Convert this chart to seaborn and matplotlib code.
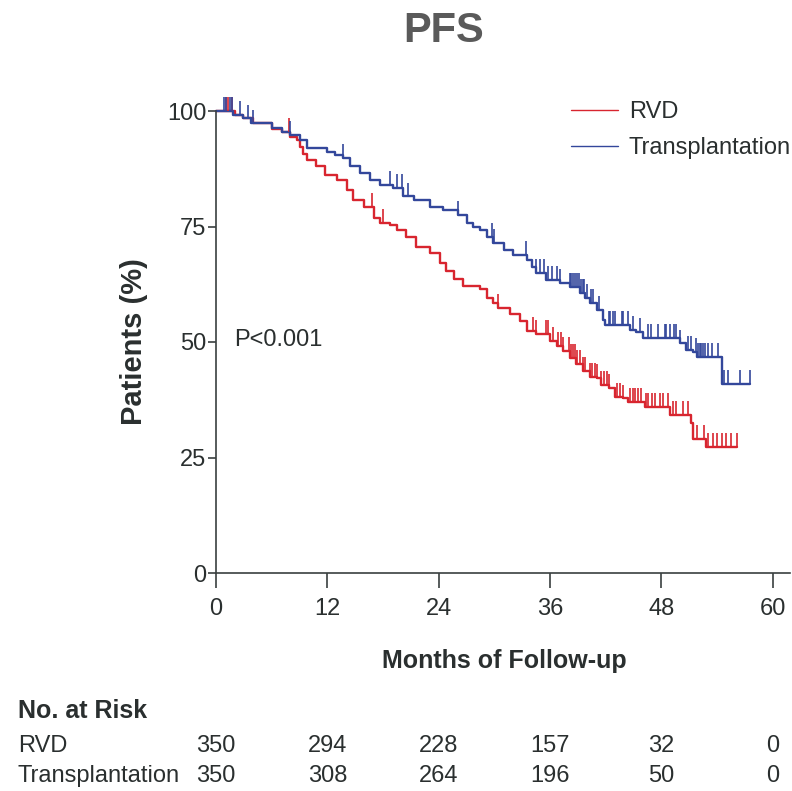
import numpy as np
import pandas as pd
import seaborn as sns
import matplotlib.pyplot as plt
from matplotlib.transforms import blended_transform_factory

# step curves (time in months, % progression-free)
rvd_time = [0, 2.0, 2.9, 4.0, 6.0, 7.1, 8.0, 8.7, 9.05, 9.4, 9.8, 10.8, 11.7, 13.0, 14.1, 14.8,
            15.9, 17.0, 17.7, 18.8, 19.5, 20.5, 21.6, 23.1, 24.1, 24.8, 25.6, 26.6, 28.4, 29.2,
            29.8, 30.4, 31.7, 32.8, 33.5, 34.5, 36.0, 36.7, 37.4, 38.1, 38.8, 39.5, 40.3, 41.0,
            41.5, 42.4, 43.0, 43.9, 44.4, 46.2, 48.9, 51.2, 51.4, 52.8, 56.1]
rvd_surv = [100, 99.2, 98.4, 97.3, 96.2, 95.5, 94.4, 93.7, 92.3, 90.8, 89.4, 88.0, 86.1, 85.0, 82.9, 80.7,
            79.3, 76.8, 75.7, 75.3, 74.2, 72.7, 70.6, 69.3, 67.2, 65.4, 63.6, 62.1, 61.4, 59.6,
            58.5, 57.4, 56.1, 54.5, 52.4, 51.7, 50.2, 49.2, 48.1, 46.5, 45.2, 43.8, 42.5, 42.2,
            40.7, 40.0, 38.2, 37.8, 37.1, 36.0, 34.2, 32.4, 29.1, 27.2, 27.2]

tx_time = [0, 1.8, 2.9, 3.8, 6.0, 7.1, 8.0, 9.05, 9.8, 12.0, 12.8, 13.7, 14.4, 15.5, 16.6, 17.7,
           19.1, 20.2, 21.3, 23.1, 24.5, 26.1, 27.0, 27.7, 28.4, 29.2, 29.9, 31.0, 32.0, 33.5,
           34.0, 34.5, 35.6, 37.1, 38.1, 39.2, 39.8, 40.3, 41.0, 41.7, 41.9, 44.6, 45.3, 46.0,
           50.0, 50.6, 51.4, 51.8, 54.5, 57.5]
tx_surv = [100, 99.2, 98.4, 97.3, 96.4, 95.5, 94.8, 93.7, 92.0, 91.2, 90.5, 89.8, 88.0, 86.5, 85.0, 84.0,
           83.3, 81.5, 80.7, 79.3, 78.6, 77.5, 75.8, 75.0, 74.2, 72.8, 71.4, 69.9, 68.8, 67.8,
           66.3, 64.9, 63.4, 62.8, 62.0, 60.6, 59.5, 58.4, 56.9, 54.8, 53.7, 52.6, 52.2, 50.8,
           49.7, 48.2, 47.9, 46.8, 41.0, 41.0]

# censoring marks
rvd_cens = [1.1, 1.3, 1.7, 7.9, 16.8, 18.0, 30.4, 34.2, 34.5, 35.6, 35.8, 36.3, 36.9, 37.2, 37.4,
            38.0, 38.3, 38.5, 38.7, 38.9, 39.2, 39.5, 39.8, 40.3, 40.5, 40.8, 41.0, 41.5, 41.8,
            42.1, 42.4, 43.2, 43.5, 43.9, 44.6, 44.9, 45.2, 45.5, 45.8, 46.3, 46.6, 47.0, 47.3,
            47.8, 48.2, 48.7, 49.2, 49.6, 50.3, 50.9, 51.8, 52.6, 53.0, 53.5, 54.0, 54.5, 55.0,
            55.5, 56.1]
tx_cens = [0.85, 1.1, 1.5, 1.7, 2.6, 3.5, 4.0, 8.0, 13.7, 18.8, 19.5, 20.0, 20.7, 26.1, 29.7, 30.0,
           33.4, 34.5, 34.9, 35.3, 35.8, 36.2, 36.7, 37.1, 38.1, 38.3, 38.5, 38.7, 38.9, 39.1,
           39.3, 39.5, 39.7, 40.0, 40.4, 40.6, 41.3, 42.3, 42.5, 42.8, 43.0, 43.7, 43.9, 44.4,
           44.9, 45.7, 46.6, 46.9, 47.6, 48.4, 48.5, 48.9, 49.3, 49.6, 50.0, 50.9, 51.2, 51.7,
           51.9, 52.1, 52.3, 52.5, 52.7, 53.0, 53.4, 54.1, 54.7, 55.2, 56.5, 57.5]

arms = ['RVD', 'Transplantation']
risk_months = [0, 12, 24, 36, 48, 60]
risk_rvd = [350, 294, 228, 157, 32, 0]
risk_tx = [350, 308, 264, 196, 50, 0]

colors = {'RVD': '#d8252f', 'Transplantation': '#33479b'}
txt = '#2a2f2f'

sns.set_style('white')
plt.rcParams['font.family'] = ['Liberation Sans', 'DejaVu Sans']

df = pd.concat([
    pd.DataFrame({'arm': 'RVD', 'time': rvd_time, 'surv': rvd_surv}),
    pd.DataFrame({'arm': 'Transplantation', 'time': tx_time, 'surv': tx_surv}),
])

fig = plt.figure(figsize=(7.92, 7.91), dpi=100)
ax = fig.add_axes([216 / 792, 1 - 573 / 791, (790 - 216) / 792, (573 - 111) / 791])

sns.lineplot(data=df, x='time', y='surv', hue='arm', hue_order=arms, palette=colors,
             estimator=None, drawstyle='steps-post', linewidth=1.7, ax=ax, clip_on=False)


def surv_at(times, surv, t):
    i = np.searchsorted(times, t, side='right') - 1
    return np.asarray(surv)[i]


for arm, times, surv, cens in [('RVD', rvd_time, rvd_surv, rvd_cens),
                               ('Transplantation', tx_time, tx_surv, tx_cens)]:
    yc = surv_at(np.array(times), surv, np.array(cens))
    ax.vlines(cens, yc, yc + 3.0, color=colors[arm], linewidth=1.2, clip_on=False)

ax.set_xlim(0, 61.85)
ax.set_ylim(0, 100)
ax.set_xticks(risk_months)
ax.set_yticks([0, 25, 50, 75, 100])
ax.tick_params(axis='x', direction='out', length=11, width=1.2, color='#3a4040',
               labelsize=17, labelcolor=txt, pad=7, bottom=True)
ax.tick_params(axis='y', direction='out', length=6, width=1.2, color='#3a4040',
               labelsize=17, labelcolor=txt, pad=1, left=True)
for s in ['top', 'right']:
    ax.spines[s].set_visible(False)
for s in ['left', 'bottom']:
    ax.spines[s].set_color('#3a4040')
    ax.spines[s].set_linewidth(1.2)

ax.set_xlabel('')
ax.set_ylabel('')
fig.text(134 / 792, 1 - 342 / 791, 'Patients (%)', rotation=90, ha='center', va='center',
         fontsize=21, fontweight='bold', color=txt)
fig.text(504 / 792, 1 - 661 / 791, 'Months of Follow-up', ha='center', va='center',
         fontsize=18, fontweight='bold', color=txt)
fig.text(444 / 792, 1 - 31 / 791, 'PFS', ha='center', va='center',
         fontsize=30, fontweight='bold', color='#5a5a5a')
ax.text(1.9, 50.4, 'P<0.001', ha='left', va='center', fontsize=17, color=txt)

sns.move_legend(ax, 'upper right', bbox_to_anchor=(791 / 792, 1 - 101 / 791),
                bbox_transform=fig.transFigure, title=None, frameon=False, fontsize=17,
                handlelength=2.0, handletextpad=0.45, labelspacing=0.6, borderpad=0,
                borderaxespad=0)
leg = ax.get_legend()
for t in leg.get_texts():
    t.set_color(txt)
for h in leg.legend_handles:
    h.set_linewidth(1.0)

# number at risk table
mixed = blended_transform_factory(ax.transData, fig.transFigure)
fig.text(18 / 792, 1 - 711 / 791, 'No. at Risk', ha='left', va='center', fontsize=18,
         fontweight='bold', color=txt)
for label, vals, ypix in [('RVD', risk_rvd, 746), ('Transplantation', risk_tx, 776)]:
    fig.text(18 / 792, 1 - ypix / 791, label, ha='left', va='center', fontsize=17, color=txt)
    for m, v in zip(risk_months, vals):
        ax.text(m, 1 - ypix / 791, str(v), ha='center', va='center', fontsize=17, color=txt,
                transform=mixed)

fig.savefig('out.png', dpi=100)
